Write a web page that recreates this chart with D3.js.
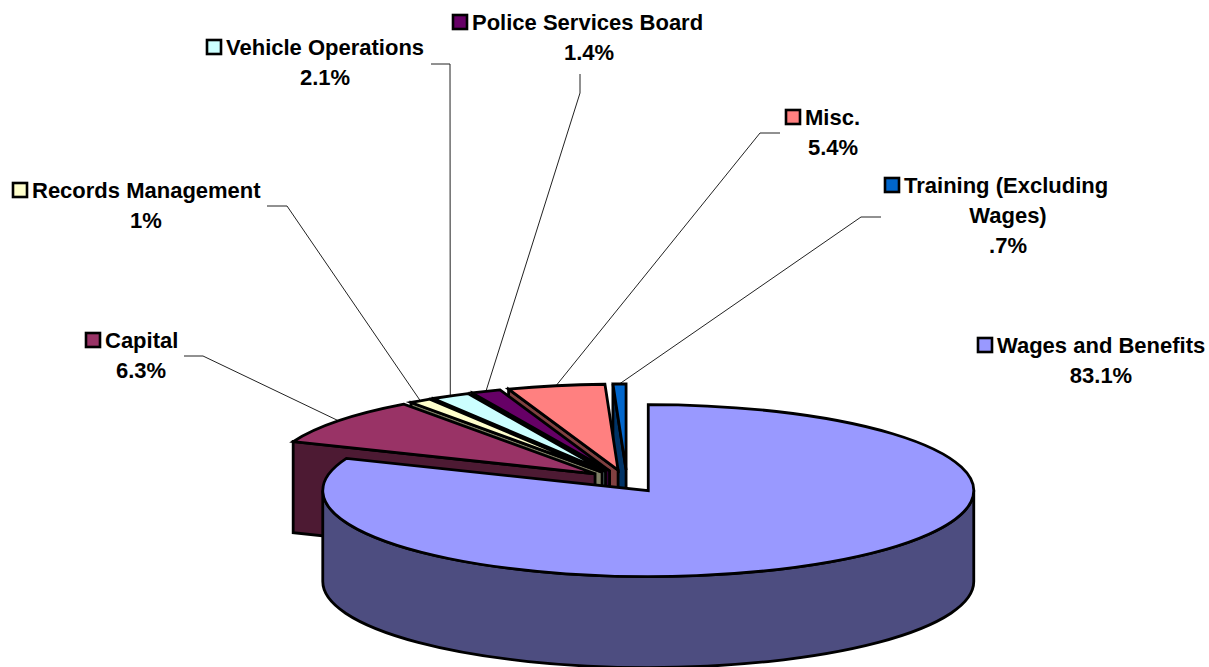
<!DOCTYPE html>
<html>
<head>
<meta charset="utf-8">
<style>
  html, body { margin: 0; padding: 0; background: #fff; }
  text { font-family: "Liberation Sans", Arial, sans-serif; font-weight: bold; font-size: 22px; fill: #000; }
</style>
<script src="https://cdn.jsdelivr.net/npm/d3@7"></script>
</head>
<body>
<div id="chart"></div>
<script>
// data
var categories = ["Wages and Benefits", "Capital", "Records Management", "Vehicle Operations", "Police Services Board", "Misc.", "Training (Excluding Wages)"];
var values = [83.1, 6.3, 1, 2.1, 1.4, 5.4, 0.7];
var valueLabels = ["83.1%", "6.3%", "1%", "2.1%", "1.4%", "5.4%", ".7%"];
var colors = ["#9999ff", "#993366", "#ffffcc", "#ccffff", "#660066", "#ff8080", "#0066cc"];

// set dimensions
var w = 1209, h = 667;
var rx = 325.5, ry = 86, depth = 91;
var cx = 627, cy = 481, explode = 42;

// the picture is in perspective, so drawn angles drift from the true ones
var viewAngle = d3.scaleLinear()
  .domain([0, 299.2, 321.8, 325.4, 333, 338, 357.5, 360])
  .range([0, 292, 324, 328, 335, 340.3, 357.7, 360]);

// label layout: first line start, centre of other lines, first baseline, leader
var labelLayout = [
  { x: 997, mid: 1101, y: 353 },
  { x: 105, mid: 141, y: 348, leader: [[184, 356], [203, 356]] },
  { x: 32, mid: 146, y: 198, leader: [[267, 206], [287, 206]] },
  { x: 226, mid: 325, y: 55, leader: [[431, 64], [450, 64]] },
  { x: 472, mid: 589, y: 30, leader: [[580, 74], [580, 93]] },
  { x: 805, mid: 833, y: 125, leader: [[780, 133], [760, 133]] },
  { x: 904, mid: 1008, y: 193, leader: [[881, 217], [861, 217]], lines: ["Training (Excluding", "Wages)"] }
];

var svg = d3.select("#chart").append("svg")
  .attr("width", w)
  .attr("height", h);

var pie = d3.pie().sort(null).value(function(d) { return d; });
var rad = Math.PI / 180;

var slices = pie(values).map(function(d, i) {
  var mid = (d.startAngle + d.endAngle) / 2;
  return {
    i: i,
    a0: viewAngle(d.startAngle / rad),
    a1: viewAngle(d.endAngle / rad),
    ox: cx + explode * Math.sin(mid),
    oy: cy - explode * Math.cos(mid) * ry / rx
  };
});

function rim(s, a) {
  return [s.ox + rx * Math.sin(a * rad), s.oy - ry * Math.cos(a * rad)];
}

function topPath(s) {
  var p0 = rim(s, s.a0), p1 = rim(s, s.a1);
  return "M" + s.ox + "," + s.oy + "L" + p0 + "A" + rx + "," + ry + " 0 " +
    (s.a1 - s.a0 > 180 ? 1 : 0) + " 1 " + p1 + "Z";
}

// cut face along the slice's first edge
function sidePath(s) {
  var p0 = rim(s, s.a0);
  return "M" + s.ox + "," + s.oy + "L" + p0 + "L" + p0[0] + "," + (p0[1] + depth) +
    "L" + s.ox + "," + (s.oy + depth) + "Z";
}

// visible outer wall, only the slice that covers the front of the ellipse has one
function wallPath(s) {
  var p0 = rim(s, 90), p1 = rim(s, 270);
  return "M" + p0 + "A" + rx + "," + ry + " 0 0 1 " + p1 +
    "L" + p1[0] + "," + (p1[1] + depth) +
    "A" + rx + "," + ry + " 0 0 0 " + p0[0] + "," + (p0[1] + depth) + "Z";
}

function shade(c) {
  var r = d3.rgb(c);
  return d3.rgb(r.r / 2, r.g / 2, r.b / 2).formatHex();
}

// leader lines go under the slices
var line = d3.line();
slices.forEach(function(s) {
  var l = labelLayout[s.i];
  if (!l.leader) return;
  svg.append("path")
    .attr("d", line(l.leader.concat([rim(s, (s.a0 + s.a1) / 2)])))
    .attr("fill", "none")
    .attr("stroke", "#222")
    .attr("stroke-width", 1);
});

// back to front: last slice first
slices.slice().reverse().forEach(function(s) {
  var g = svg.append("g")
    .attr("stroke", "#000")
    .attr("stroke-width", 2.8)
    .attr("stroke-linejoin", "miter");
  if (s.i > 0) {
    g.append("path").attr("d", sidePath(s)).attr("fill", shade(colors[s.i]));
  } else {
    g.append("path").attr("d", wallPath(s)).attr("fill", shade(colors[s.i]));
  }
  g.append("path").attr("d", topPath(s)).attr("fill", colors[s.i]);
});

// labels
categories.forEach(function(name, i) {
  var l = labelLayout[i];
  var lines = l.lines || [name];
  var lh = 30;
  svg.append("rect")
    .attr("x", l.x - 19)
    .attr("y", l.y - 15)
    .attr("width", 14)
    .attr("height", 14)
    .attr("fill", colors[i])
    .attr("stroke", "#000")
    .attr("stroke-width", 2.6);
  svg.append("text").attr("x", l.x).attr("y", l.y).text(lines[0]);
  lines.slice(1).concat([valueLabels[i]]).forEach(function(t, j) {
    svg.append("text")
      .attr("x", l.mid)
      .attr("y", l.y + lh * (j + 1))
      .attr("text-anchor", "middle")
      .text(t);
  });
});
</script>
</body>
</html>
